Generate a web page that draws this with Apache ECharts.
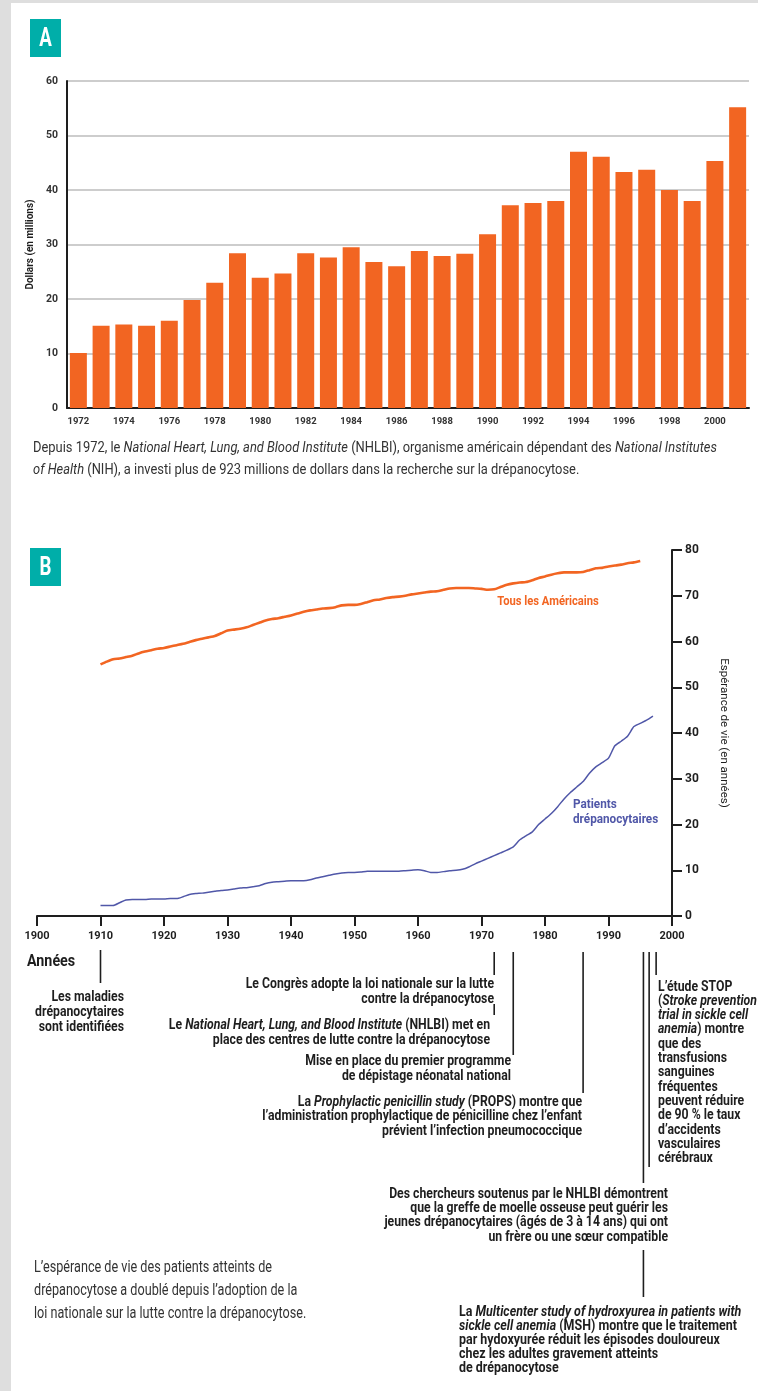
<!DOCTYPE html>
<html><head><meta charset="utf-8">
<script src="https://cdn.jsdelivr.net/npm/echarts@6/dist/echarts.min.js"></script>
<style>
html,body{margin:0;padding:0;background:#dedede;}
#paper{position:absolute;left:11px;top:3px;width:747px;height:1388px;background:#fff;}
#c{position:absolute;left:0;top:0;width:758px;height:1391px;}
</style>
</head><body><div id="paper"></div><div id="c"></div>
<script>
// ---------- DATA ----------
const fundingYears = ['1972','1973','1974','1975','1976','1977','1978','1979','1980','1981','1982','1983','1984','1985','1986','1987','1988','1989','1990','1991','1992','1993','1994','1995','1996','1997','1998','1999','2000','2001'];
const fundingValues = [10.1,15.1,15.3,15.1,16.0,19.8,23.0,28.4,23.9,24.7,28.4,27.6,29.5,26.8,26.0,28.8,27.9,28.3,31.9,37.2,37.6,38.0,47.0,46.1,43.3,43.7,40.0,38.0,45.3,55.2];
const fundingTicks = {min:0, max:60, step:10};

const americansStart = 1910;
const americansValues = [55.0,55.6,56.1,56.3,56.6,56.9,57.4,57.8,58.1,58.4,
  58.6,58.9,59.2,59.5,59.9,60.3,60.6,60.9,61.2,61.8,
  62.4,62.6,62.8,63.1,63.6,64.1,64.6,64.9,65.1,65.4,
  65.7,66.1,66.5,66.8,67.0,67.2,67.3,67.5,67.9,68.0,
  68.0,68.2,68.6,69.0,69.2,69.5,69.7,69.8,70.0,70.3,
  70.5,70.7,70.9,71.0,71.3,71.6,71.7,71.7,71.7,71.6,
  71.5,71.3,71.4,71.9,72.4,72.7,72.9,73.0,73.4,73.9,
  74.2,74.6,74.9,75.1,75.1,75.1,75.2,75.6,76.0,76.1,
  76.4,76.6,76.8,77.1,77.3,77.6];
const patientsStart = 1910;
const patientsValues = [2.3,2.3,2.3,2.9,3.5,3.6,3.6,3.6,3.7,3.7,
  3.7,3.8,3.8,4.2,4.7,4.9,5.0,5.2,5.4,5.6,
  5.7,5.9,6.1,6.2,6.4,6.6,7.1,7.4,7.5,7.6,
  7.7,7.7,7.7,7.9,8.3,8.6,8.9,9.2,9.4,9.5,
  9.5,9.6,9.8,9.8,9.8,9.8,9.8,9.8,9.9,10.0,
  10.1,9.9,9.5,9.5,9.7,9.9,10.0,10.2,10.7,11.4,
  12.0,12.6,13.2,13.8,14.4,15.1,16.6,17.5,18.4,20.0,
  21.2,22.4,23.9,25.6,27.0,28.2,29.4,31.2,32.6,33.5,
  34.5,37.2,38.2,39.3,41.4,42.1,42.8,43.7];
const lifeXTicks = {min:1900, max:2000, step:10};
const lifeYTicks = {min:0, max:80, step:10};
const eventYears = [1910, 1972, 1972, 1975, 1986, 1995.5, 1996.4, 1997.5, 1995.5];

// ---------- STYLE ----------
const FONT = "Roboto, 'Liberation Sans', sans-serif";
const ORANGE = '#F26522';
const BLUE = '#5057A8';
const INK = '#1e1e1e';
const SX = 0.875;

function pairs(start, vals){ return vals.map((v,i)=>[start+i, v]); }

const chart = echarts.init(document.getElementById('c'), null, {renderer:'canvas'});
const option = {
  animation:false,
  backgroundColor:'transparent',
  grid:[
    {left:67, top:81, width:682, height:327},
    {left:37, top:550, width:635, height:366}
  ],
  xAxis:[
    {type:'category', gridIndex:0, data:fundingYears,
     axisLine:{lineStyle:{color:INK,width:2}}, axisTick:{show:false},
     axisLabel:{interval:1, margin:9, color:'#333', fontFamily:FONT, fontWeight:'bold', fontSize:9.5}},
    {type:'value', gridIndex:1, min:lifeXTicks.min, max:lifeXTicks.max, interval:lifeXTicks.step,
     axisLine:{onZero:false, lineStyle:{color:INK,width:2}},
     axisTick:{show:true, length:10, lineStyle:{color:INK,width:2}},
     splitLine:{show:false},
     axisLabel:{margin:15, color:INK, fontFamily:FONT, fontWeight:'bold', fontSize:11, formatter:v=>String(v)}}
  ],
  yAxis:[
    {type:'value', gridIndex:0, min:fundingTicks.min, max:fundingTicks.max, interval:fundingTicks.step,
     axisLine:{show:true, lineStyle:{color:INK,width:2}}, axisTick:{show:false},
     axisLabel:{margin:9, color:'#333', fontFamily:FONT, fontWeight:'bold', fontSize:10.5},
     splitLine:{lineStyle:{color:'#bcbcbc', width:1.5}},
     name:'Dollars (en millions)', nameLocation:'middle', nameGap:32,
     nameTextStyle:{fontFamily:FONT, fontWeight:'bold', fontSize:10, color:INK}},
    {type:'value', gridIndex:1, position:'right', min:lifeYTicks.min, max:lifeYTicks.max, interval:lifeYTicks.step,
     axisLine:{show:true, onZero:false, lineStyle:{color:INK,width:2}},
     axisTick:{show:true, length:10, lineStyle:{color:INK,width:2}},
     axisLabel:{margin:13, color:INK, fontFamily:FONT, fontWeight:'bold', fontSize:12},
     splitLine:{show:false},
     name:'Espérance de vie (en années)', nameLocation:'middle', nameGap:46, nameRotate:-90,
     nameTextStyle:{fontFamily:FONT, fontSize:11.5, color:INK}}
  ],
  series:[
    {type:'bar', xAxisIndex:0, yAxisIndex:0, data:fundingValues, barWidth:17,
     itemStyle:{color:ORANGE}, silent:true},
    {type:'line', xAxisIndex:1, yAxisIndex:1, data:pairs(americansStart, americansValues),
     showSymbol:false, smooth:0.2, lineStyle:{color:ORANGE, width:2.6}, silent:true},
    {type:'line', xAxisIndex:1, yAxisIndex:1, data:pairs(patientsStart, patientsValues),
     showSymbol:false, smooth:0.2, lineStyle:{color:BLUE, width:1.5}, silent:true}
  ]
};
chart.setOption(option);

// ---------- ANNOTATIONS ----------
function txt(text, x, y, opt){
  opt = opt || {};
  const size = opt.size || 14, weight = opt.weight || 'bold', fill = opt.fill || INK;
  return {type:'text', x:x, y:y, scaleX:(opt.sx||SX), silent:true,
    style:{text:text, align:opt.align||'left', verticalAlign:'middle',
      fontFamily:FONT, fontSize:size, fontWeight:weight, fill:fill,
      rich:{
        i:{fontFamily:FONT, fontSize:size, fontWeight:weight, fontStyle:'italic', fill:fill}
      }}};
}
function block(lines, x, y0, lh, opt){ return lines.map((l,i)=>txt(l, x, y0+i*lh, opt)); }
function vline(x, y1, y2){ return {type:'line', silent:true, shape:{x1:x,y1:y1,x2:x,y2:y2}, style:{stroke:INK, lineWidth:1.6}}; }
function badge(letter, x, y){
  return [{type:'rect', silent:true, shape:{x:x,y:y,width:31,height:38}, style:{fill:'#00AEA9'}},
          {type:'text', silent:true, x:x+15.5, y:y+20, scaleX:0.72, style:{text:letter, align:'center', verticalAlign:'middle', fontFamily:FONT, fontWeight:'bold', fontSize:26, fill:'#fff'}}];
}
const ex = eventYears.map(y=>chart.convertToPixel({xAxisIndex:1}, y));

let g = [];
g = g.concat(badge('A',30,19), badge('B',30,548));
g = g.concat(block([
  'Depuis 1972, le {i|National Heart, Lung, and Blood Institute} (NHLBI), organisme américain dépendant des {i|National Institutes}',
  '{i|of Health} (NIH), a investi plus de 923 millions de dollars dans la recherche sur la drépanocytose.'
], 33, 448, 22, {size:15, weight:'normal', fill:'#333', sx:0.86}));
g.push(txt('Tous les Américains', 548, 602, {size:13.5, align:'center', fill:ORANGE, sx:0.83}));
g = g.concat(block(['Patients','drépanocytaires'], 573, 805, 15, {size:13.5, fill:BLUE, sx:0.87}));
g.push(txt('Années', 27, 962, {size:17, sx:0.84}));

// event lines
g.push(vline(ex[0], 950, 983));
g.push(vline(ex[1], 952, 975));
g.push(vline(ex[2], 1004, 1015));
g.push(vline(ex[3], 952, 1055));
g.push(vline(ex[4], 952, 1093));
g.push(vline(ex[5], 952, 1183));
g.push(vline(ex[6], 952, 1167));
g.push(vline(ex[7], 952, 975));
g.push(vline(ex[8], 1250, 1297));

g = g.concat(block(['Les maladies','drépanocytaires','sont identifiées'], 124, 997, 15, {align:'right'}));
g = g.concat(block(['Le Congrès adopte la loi nationale sur la lutte','contre la drépanocytose'], 494, 984, 15, {align:'right'}));
g = g.concat(block(['Le {i|National Heart, Lung, and Blood Institute} (NHLBI) met en','place des centres de lutte contre la drépanocytose'], 490, 1025, 15, {align:'right'}));
g = g.concat(block(['Mise en place du premier programme','de dépistage néonatal national'], 511, 1061, 15, {align:'right'}));
g = g.concat(block(['La {i|Prophylactic penicillin study} (PROPS) montre que','l’administration prophylactique de pénicilline chez l’enfant','prévient l’infection pneumococcique'], 582, 1102, 14.5, {align:'right'}));
g = g.concat(block(['L’étude STOP','({i|Stroke prevention}','{i|trial in sickle cell}','{i|anemia}) montre','que des','transfusions','sanguines','fréquentes','peuvent réduire','de 90 % le taux','d’accidents','vasculaires','cérébraux'], 658, 987, 14.3, {align:'left'}));
g = g.concat(block(['Des chercheurs soutenus par le NHLBI démontrent','que la greffe de moelle osseuse peut guérir les','jeunes drépanocytaires (âgés de 3 à 14 ans) qui ont','un frère ou une sœur compatible'], 668, 1194, 14.4, {align:'right'}));
g = g.concat(block(['La {i|Multicenter study of hydroxyurea in patients with}','{i|sickle cell anemia} (MSH) montre que le traitement','par hydoxyurée réduit les épisodes douloureux','chez les adultes gravement atteints','de drépanocytose'], 459, 1312, 14.2, {align:'left', sx:0.89}));
g = g.concat(block(['L’espérance de vie des patients atteints de','drépanocytose a doublé depuis l’adoption de la','loi nationale sur la lutte contre la drépanocytose.'], 34, 1268, 23, {size:16, weight:'normal', fill:'#333', sx:0.79}));

chart.setOption({graphic:{elements:g}});
</script>
</body></html>
